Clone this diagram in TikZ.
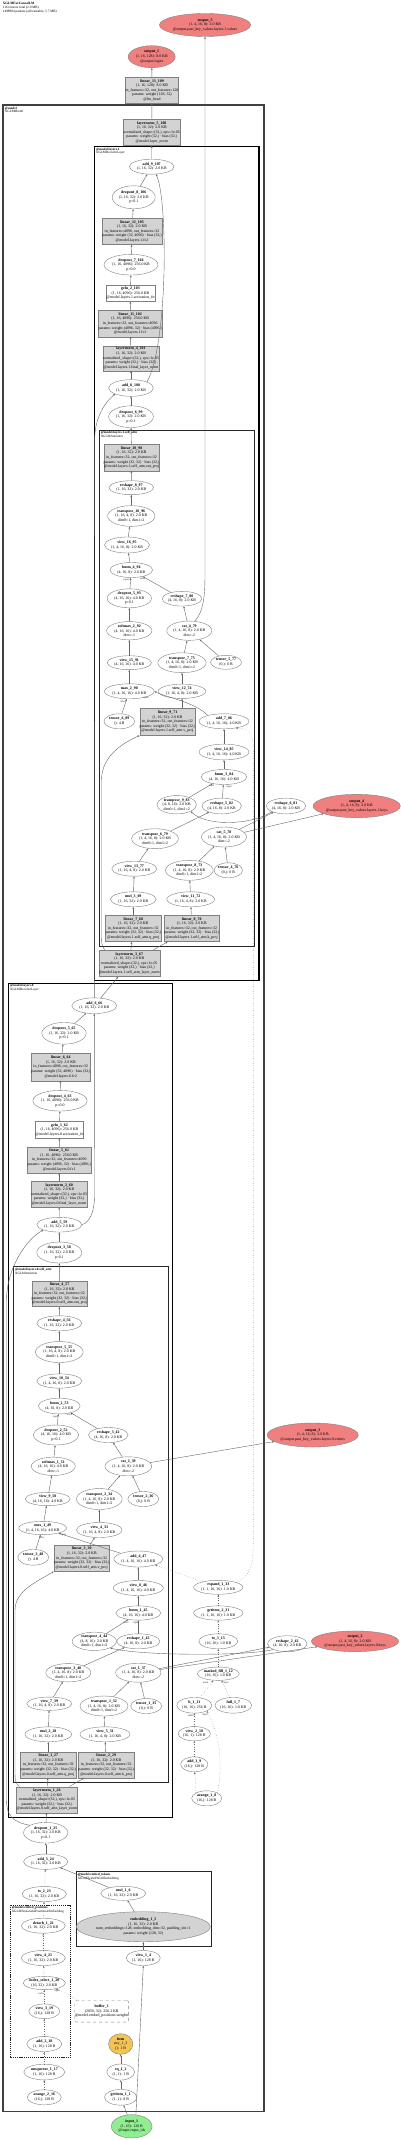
\documentclass[tikz,border=0pt]{standalone}
\usepackage{fontspec}
\setmainfont{Liberation Serif}
\usetikzlibrary{shapes.geometric,arrows.meta}
\definecolor{outpink}{RGB}{240,128,128}
\definecolor{ingreen}{RGB}{144,238,144}
\definecolor{gfill}{RGB}{211,211,211}
\definecolor{orng}{RGB}{242,196,86}
\newcommand\nmb[1]{\textbf{#1}}
\tikzset{
 base/.style={font=\fontsize{3.9}{4.6}\selectfont, align=center, inner sep=0pt, line width=0.4pt, draw=black!50, text=black},
 ell/.style={base, ellipse, fill=white},
 gbox/.style={base, rectangle, fill=gfill},
 wbox/.style={base, rectangle, fill=white},
 edge/.style={draw=black!60, line width=0.4pt, -{Stealth[length=2.2pt,width=1.8pt]}},
 dedge/.style={edge, dotted},
 elab/.style={font=\fontsize{2.6}{3}\selectfont, inner sep=0pt, text=black!80},
 clab/.style={font=\fontsize{3.3}{3.8}\selectfont, align=left, inner sep=0pt, anchor=north west},
 cmodel/.style={draw=black!75, line width=1.6pt},
 clayer/.style={draw=black, line width=1.1pt},
 cattn/.style={draw=black!85, line width=0.8pt},
 cdash/.style={draw=black!85, line width=0.8pt, dash pattern=on 1.2pt off 0.9pt},
}
\newcommand\EL[7][]{\node[ell,#1,minimum width=#5,minimum height=#6] (#2) at (#3,#4) {#7};}
\newcommand\BX[7][]{\node[gbox,#1,minimum width=#5,minimum height=#6] (#2) at (#3,#4) {#7};}
\begin{document}
\catcode`\_=12
\newcommand\SA{(1, 16, 32): 2.0 KB}
\newcommand\SB{(1, 4, 16, 8): 2.0 KB}
\newcommand\SC{(1, 16, 4, 8): 2.0 KB}
\newcommand\SD{(4, 16, 16): 4.0 KB}
\newcommand\SE{(1, 4, 16, 16): 4.0 KB}
\newcommand\SF{(4, 16, 8): 2.0 KB}
\newcommand\TD{dim0=1, dim1=2}
\newcommand\LQ{in_features=32, out_features=32\\params: weight (32, 32) · bias (32,)}
\newcommand\LN{normalized_shape=(32,), eps=1e-05\\params: weight (32,) · bias (32,)}
\begin{tikzpicture}[x=1pt,y=-1pt]
\useasboundingbox (0,0) rectangle (400,2140);
\fill[white] (0,0) rectangle (400,2140);
% title
\node[clab, font=\fontsize{3.4}{3.8}\selectfont] (title) at (2.7,2.2) {\nmb{XGLMForCausalLM}\\116 tensors total (2.0 MB)\\1498984 params (all trainable, 5.7 MB)};
% clusters
\draw[cmodel] (2.7,105.3) rectangle (264,2111.3);
\node[clab] (lmodel) at (4.8,106.6) {\nmb{@model}\\XGLMModel};
\draw[clayer] (94.3,146.7) rectangle (259,980.7);
\node[clab] (llay1) at (96,147.6) {\nmb{@model.layers.1}\\XGLMDecoderLayer};
\draw[cattn] (99,430) rectangle (254,946.7);
\node[clab] (lattn1) at (100.6,431) {\nmb{@model.layers.1.self_attn}\\XGLMAttention};
\draw[clayer] (8.3,983.3) rectangle (172.7,1817.3);
\node[clab] (llay0) at (10,984.2) {\nmb{@model.layers.0}\\XGLMDecoderLayer};
\draw[cattn] (13.3,1266.7) rectangle (168.3,1782.7);
\node[clab] (lattn0) at (15,1267.7) {\nmb{@model.layers.0.self_attn}\\XGLMAttention};
\draw[cattn] (76,1871.7) rectangle (211.7,1946);
\node[clab] (ltok) at (77.6,1872.7) {\nmb{@model.embed_tokens}\\XGLMScaledWordEmbedding};
\draw[cdash] (10,1905) rectangle (70.7,2057.3);
\node[clab] (lpos) at (11.6,1906) {\nmb{@model.embed_positions}\\XGLMSinusoidalPositionalEmbedding};
% ---- top
\EL[fill=outpink]{o5}{205}{25}{87}{23}{\nmb{output_5}\\\SB\\@output.past_key_values.layers.1.values}
\EL[fill=outpink]{o1}{151.7}{56.7}{47}{22}{\nmb{output_1}\\(1, 16, 128): 8.0 KB\\@output.logits}
\BX{lin13}{152}{90.3}{50.6}{26}{\nmb{linear_13_109}\\(1, 16, 128): 8.0 KB\\in_features=32, out_features=128\\params: weight (128, 32)\\@lm_head}
\BX{ln5}{151.8}{132.3}{55}{26.7}{\nmb{layernorm_5_108}\\\SA\\\LN\\@model.layer_norm}
% ---- layer 1
\EL{a9}{151.7}{166.7}{44.7}{15}{\nmb{add_9_107}\\\SA}
\EL{d8}{133.7}{197.3}{43}{23}{\nmb{dropout_8_106}\\\SA\\p=0.1}
\BX{lin12}{132}{231.3}{57.4}{26.7}{\nmb{linear_12_105}\\\SA\\in_features=4096, out_features=32\\params: weight (32, 4096) · bias (32,)\\@model.layers.1.fc2}
\EL{d7}{131}{264.7}{54}{20.7}{\nmb{dropout_7_104}\\(1, 16, 4096): 256.0 KB\\p=0.0}
\node[wbox,minimum width=48.4,minimum height=16] (gelu2) at (130.5,293.3) {\nmb{gelu_2_103}\\(1, 16, 4096): 256.0 KB\\@model.layers.1.activation_fn};
\BX{lin11}{130.2}{323.5}{61}{26.4}{\nmb{linear_11_102}\\(1, 16, 4096): 256.0 KB\\in_features=32, out_features=4096\\params: weight (4096, 32) · bias (4096,)\\@model.layers.1.fc1}
\BX{ln4}{131}{358.2}{55.4}{25}{\nmb{layernorm_4_101}\\\SA\\\LN\\@model.layers.1.final_layer_norm}
\EL{a8}{131}{388}{44.7}{16.7}{\nmb{add_8_100}\\\SA}
\EL{d6}{131}{416.7}{44.7}{21.7}{\nmb{dropout_6_99}\\\SA\\p=0.1}
\BX{lin10}{131.5}{457.5}{54.4}{26.4}{\nmb{linear_10_98}\\\SA\\\LQ\\@model.layers.1.self_attn.out_proj}
\EL{rs8}{131.3}{487.7}{44.7}{14}{\nmb{reshape_8_97}\\\SA}
\EL{tr10}{131.3}{516}{47.3}{20.7}{\nmb{transpose_10_96}\\\SC\\\TD}
\EL{v16}{127}{545}{39.3}{16}{\nmb{view_16_95}\\\SB}
\EL{bmm4}{131.3}{570}{42.7}{15}{\nmb{bmm_4_94}\\\SF}
\EL{d5}{129.3}{598.3}{44.3}{19}{\nmb{dropout_5_93}\\\SD\\p=0.1}
\EL{rs7}{182}{598.7}{32.7}{14.7}{\nmb{reshape_7_80}\\\SF}
\EL{sm2}{129.3}{630.7}{45.3}{18.3}{\nmb{softmax_2_92}\\\SD\\dim=-1}
\EL{cat4}{189.3}{630.7}{39}{19.3}{\nmb{cat_4_79}\\\SB\\dim=-2}
\EL{v15}{129.3}{662.7}{44.3}{14}{\nmb{view_15_91}\\\SD}
\EL{tr7}{182}{662.7}{48.3}{20}{\nmb{transpose_7_75}\\\SB\\\TD}
\EL{t5}{226}{662.3}{31}{14}{\nmb{tensor_5_77}\\(0,): 0 B}
\EL{max2}{129.3}{691.3}{49.7}{15}{\nmb{max_2_90}\\\SE}
\EL{v12}{182}{691.3}{47.7}{14.3}{\nmb{view_12_74}\\\SC}
\BX{lin9}{167.5}{721.8}{55}{27}{\nmb{linear_9_71}\\\SA\\\LQ\\@model.layers.1.self_attn.v_proj}
\EL{t6}{119.3}{721.3}{30.7}{15}{\nmb{tensor_6_89}\\(): 4 B}
\EL{a7}{224}{721.3}{50}{15}{\nmb{add_7_86}\\\SE}
\EL{v14}{224}{752}{50}{15.7}{\nmb{view_14_85}\\\SE}
\EL{bmm3}{224}{777}{45.7}{15}{\nmb{bmm_3_84}\\\SD}
\EL{tr9}{176.7}{804.7}{36.7}{18.3}{\nmb{transpose_9_83}\\(4, 8, 16): 2.0 KB\\\TD}
\EL{rs5}{221.7}{806}{35.3}{15.7}{\nmb{reshape_5_82}\\\SF}
\EL{rs6}{286}{806}{35.7}{15.7}{\nmb{reshape_6_81}\\\SF}
\EL[fill=outpink]{o4}{356.7}{806}{83.3}{23.3}{\nmb{output_4}\\\SB\\@output.past_key_values.layers.1.keys}
\EL{tr6}{155}{838.7}{46.7}{20}{\nmb{transpose_6_79}\\\SB\\\TD}
\EL{cat5}{224}{837}{45}{20}{\nmb{cat_5_78}\\\SB\\dim=-2}
\EL{v13}{134.3}{868.7}{44.3}{15}{\nmb{view_13_77}\\\SC}
\EL{tr8}{189.3}{870.3}{47.7}{20}{\nmb{transpose_8_73}\\\SB\\\TD}
\EL{t4}{228.3}{870.3}{23.3}{15}{\nmb{tensor_4_76}\\(0,): 0 B}
\EL{mul3}{133.3}{899.3}{45.7}{15}{\nmb{mul_3_69}\\\SA}
\EL{v11}{190.7}{899.3}{47.7}{15}{\nmb{view_11_72}\\\SC}
\BX{lin7}{133.3}{928.3}{53.3}{26.7}{\nmb{linear_7_68}\\\SA\\\LQ\\@model.layers.1.self_attn.q_proj}
\BX{lin8}{191.7}{928.3}{53.3}{26.7}{\nmb{linear_8_70}\\\SA\\\LQ\\@model.layers.1.self_attn.k_proj}
\BX{ln3}{129.3}{963.3}{58.7}{26.7}{\nmb{layernorm_3_67}\\\SA\\\LN\\@model.layers.1.self_attn_layer_norm}
% ---- layer 0
\EL{a6}{94.3}{1005.7}{45}{15.7}{\nmb{add_6_66}\\\SA}
\EL{dA}{64}{1033.3}{44.3}{21.7}{\nmb{dropout_5_65}\\\SA\\p=0.1}
\BX{lin6}{60.8}{1067}{57}{27.4}{\nmb{linear_6_64}\\\SA\\in_features=4096, out_features=32\\params: weight (32, 4096) · bias (32,)\\@model.layers.0.fc2}
\EL{d4}{60}{1100.7}{54.3}{20.7}{\nmb{dropout_4_63}\\(1, 16, 4096): 256.0 KB\\p=0.0}
\node[wbox,minimum width=47.6,minimum height=16.7] (gelu1) at (59.5,1129.7) {\nmb{gelu_1_62}\\(1, 16, 4096): 256.0 KB\\@model.layers.0.activation_fn};
\BX{lin5}{59.2}{1160}{61.7}{26}{\nmb{linear_5_61}\\(1, 16, 4096): 256.0 KB\\in_features=32, out_features=4096\\params: weight (4096, 32) · bias (4096,)\\@model.layers.0.fc1}
\BX{ln2}{59.2}{1194.3}{55}{26}{\nmb{layernorm_2_60}\\\SA\\\LN\\@model.layers.0.final_layer_norm}
\EL{a5}{59.3}{1224.7}{45}{14.7}{\nmb{add_5_59}\\\SA}
\EL{d3}{59.3}{1252.5}{45}{21}{\nmb{dropout_3_58}\\\SA\\p=0.1}
\BX{lin4}{59.5}{1293.8}{54.4}{25.7}{\nmb{linear_4_57}\\\SA\\\LQ\\@model.layers.0.self_attn.out_proj}
\EL{rs4}{59.3}{1323.3}{45}{15}{\nmb{reshape_4_56}\\\SA}
\EL{tr5}{59.3}{1352}{47.7}{21}{\nmb{transpose_5_55}\\\SC\\\TD}
\EL{v10}{59.3}{1381}{44.3}{14.3}{\nmb{view_10_54}\\\SB}
\EL{bmm2}{59.3}{1406}{41.7}{15.7}{\nmb{bmm_2_53}\\\SF}
\EL{d2}{56}{1435}{45}{20}{\nmb{dropout_2_52}\\\SD\\p=0.1}
\EL{rs3}{108.3}{1435}{32.3}{15}{\nmb{reshape_3_42}\\\SF}
\EL[fill=outpink]{o3}{312.7}{1435}{86.7}{24}{\nmb{output_3}\\\SB\\@output.past_key_values.layers.0.values}
\EL{sm1}{53.3}{1466.3}{44}{18.3}{\nmb{softmax_1_51}\\\SD\\dim=-1}
\EL{cat2}{128.3}{1466.3}{46.7}{19}{\nmb{cat_2_39}\\\SB\\dim=-2}
\EL{v9}{47.7}{1499}{45}{13.3}{\nmb{view_9_50}\\\SD}
\EL{tr2}{99.3}{1499}{45.7}{21}{\nmb{transpose_2_34}\\\SB\\\TD}
\EL{t2}{143.3}{1499}{31}{15}{\nmb{tensor_2_36}\\(0,): 0 B}
\EL{max1}{42.7}{1528}{41.7}{13.3}{\nmb{max_1_49}\\\SE}
\EL{v4}{99.3}{1530}{45.7}{15}{\nmb{view_4_33}\\\SC}
\EL{t3}{33.3}{1557.3}{31}{15.7}{\nmb{tensor_3_48}\\(): 4 B}
\BX{lin3}{81.7}{1558.2}{53.3}{26.3}{\nmb{linear_3_30}\\\SA\\\LQ\\@model.layers.0.self_attn.v_proj}
\EL{a4}{138.3}{1559}{48.7}{16}{\nmb{add_4_47}\\\SE}
\EL{v8}{138.3}{1588}{50}{15}{\nmb{view_8_46}\\\SE}
\EL{bmm1}{138.3}{1613}{45}{14.3}{\nmb{bmm_1_45}\\\SD}
\EL{tr4}{94.3}{1641.3}{44.3}{18.3}{\nmb{transpose_4_44}\\(4, 8, 16): 2.0 KB\\\TD}
\EL{rs1}{138.3}{1641.3}{43.3}{15}{\nmb{reshape_1_43}\\\SF}
\EL{rs2}{287.3}{1643.7}{35.7}{16}{\nmb{reshape_2_42}\\\SF}
\EL[fill=outpink]{o2}{355}{1641.3}{83.3}{20.7}{\nmb{output_2}\\\SB\\@output.past_key_values.layers.0.keys}
\EL{tr3}{68.3}{1672.7}{45}{18.3}{\nmb{transpose_3_40}\\\SB\\\TD}
\EL{cat1}{138.3}{1672.7}{45.3}{19}{\nmb{cat_1_37}\\\SB\\dim=-2}
\EL{v7}{49.3}{1703.7}{45}{13.3}{\nmb{view_7_39}\\\SC}
\EL{tr1}{104}{1706}{48}{20}{\nmb{transpose_1_32}\\\SB\\\TD}
\EL{t1}{146.2}{1706}{31}{15}{\nmb{tensor_1_35}\\(0,): 0 B}
\EL{mul2}{48.3}{1734.3}{46.7}{15}{\nmb{mul_2_28}\\\SA}
\EL{v5}{105}{1734.3}{50}{15}{\nmb{view_5_31}\\\SC}
\BX{lin1}{48.3}{1765}{56.7}{26}{\nmb{linear_1_27}\\\SA\\\LQ\\@model.layers.0.self_attn.q_proj}
\BX{lin2}{106.2}{1765}{54.3}{26}{\nmb{linear_2_29}\\\SA\\\LQ\\@model.layers.0.self_attn.k_proj}
\BX{ln1}{47}{1799.7}{59.4}{26}{\nmb{layernorm_1_26}\\\SA\\\LN\\@model.layers.0.self_attn_layer_norm}
% ---- mask chain
\EL{ex1}{218.3}{1587.3}{49.3}{14}{\nmb{expand_1_33}\\(1, 1, 16, 16): 1.0 KB}
\EL{gi2}{218.3}{1613}{49.3}{14.3}{\nmb{getitem_2_31}\\(1, 1, 16, 16): 1.0 KB}
\EL{to1}{218.3}{1641.3}{39}{15}{\nmb{to_1_13}\\(16, 16): 1.0 KB}
\EL{mf1}{218.3}{1673.7}{42}{13.3}{\nmb{masked_fill_1_12}\\(16, 16): 1.0 KB}
\EL{lt1}{194.3}{1705.3}{35}{15.7}{\nmb{lt_1_11}\\(16, 16): 256 B}
\EL{full1}{233.3}{1705.3}{28}{15.7}{\nmb{full_1_7}\\(16, 16): 1.0 KB}
\EL{v2}{194.3}{1733.7}{32.3}{14.3}{\nmb{view_2_10}\\(16, 1): 128 B}
\EL{a1}{194.3}{1764.3}{26.7}{15}{\nmb{add_1_9}\\(16,): 128 B}
\EL{ar1}{206.7}{1798.3}{30}{15}{\nmb{arange_1_8}\\(16,): 128 B}
% ---- embeddings
\EL{d1}{45.7}{1832.7}{44.3}{20.7}{\nmb{dropout_1_25}\\\SA\\p=0.1}
\EL{a3}{45.7}{1861.7}{44.3}{15.3}{\nmb{add_3_24}\\\SA}
\EL{to2}{44.3}{1894}{44.3}{15}{\nmb{to_2_23}\\\SA}
\EL{mul1}{123.3}{1893.3}{45}{14}{\nmb{mul_1_6}\\\SA}
\EL[fill=gfill]{emb}{143.3}{1926.7}{125.3}{30}{\nmb{embedding_1_5}\\\SA\\num_embeddings=128, embedding_dim=32, padding_idx=1\\params: weight (128, 32)}
\EL{det}{43.3}{1925.7}{44}{15}{\nmb{detach_1_22}\\\SA}
\EL{v1}{43.3}{1958}{44}{15}{\nmb{view_4_21}\\\SA}
\EL{v1b}{143.3}{1958}{34}{15}{\nmb{view_1_4}\\(1, 16): 128 B}
\EL{is1}{44.3}{1983}{41.7}{13.3}{\nmb{index_select_1_20}\\(16, 32): 2.0 KB}
\node[base, rectangle, rounded corners=2pt, dashed, fill=white, minimum width=52.3, minimum height=21.7] (buf) at (101.7,2011.3) {\nmb{buffer_1}\\(2050, 32): 256.2 KB\\@model.embed_positions.weights};
\EL{v3}{44.3}{2011.3}{31}{14.7}{\nmb{view_3_19}\\(16,): 128 B}
\EL{a2}{44.3}{2044}{35}{15}{\nmb{add_2_18}\\(1, 16): 128 B}
\EL[fill=orng]{orn}{120.7}{2044}{24.3}{20.7}{\nmb{item}\\any_1_3\\(): 1 B}
\EL{unsq}{44.3}{2072}{41}{15.7}{\nmb{unsqueeze_1_17}\\(1, 16): 128 B}
\EL{eq}{120.7}{2072}{27.7}{16}{\nmb{eq_1_2}\\(1, 1): 1 B}
\EL{ar2}{44.3}{2097.3}{34}{15}{\nmb{arange_2_16}\\(16,): 128 B}
\EL{gi1}{120.7}{2097.3}{32.3}{15.7}{\nmb{getitem_1_1}\\(1, 1): 8 B}
\EL[fill=ingreen]{in1}{131.7}{2126.3}{40.7}{23.3}{\nmb{input_1}\\(1, 16): 128 B\\@input.input_ids}
% ================= edges
\draw[edge] (lin13) -- (o1);
\draw[edge] (ln5) -- (lin13);
\draw[edge] (a9) -- (ln5);
\draw[edge] (d8) -- (a9);
\draw[edge] (a8.north east) .. controls (168,345) and (168,200) .. (a9.-60);
\draw[edge] (lin12) -- (d8);
\draw[edge] (d7) -- (lin12);
\draw[edge] (gelu2) -- (d7);
\draw[edge] (lin11) -- (gelu2);
\draw[edge] (ln4) -- (lin11);
\draw[edge] (a8) -- (ln4);
\draw[edge] (d6) -- (a8);
\draw[edge] (lin10) -- (d6);
\draw[edge] (rs8) -- (lin10);
\draw[edge] (tr10) -- (rs8);
\draw[edge] (v16) -- (tr10);
\draw[edge] (bmm4) -- (v16);
\draw[edge] (d5) -- (bmm4);
\draw[edge] (rs7) -- (bmm4);
\draw[edge] (sm2) -- (d5);
\draw[edge] (v15) -- (sm2);
\draw[edge] (max2) -- (v15);
\draw[edge] (a7.160) .. controls (195,702) and (165,697) .. (max2.east);
\draw[edge] (t6) -- (max2);
\draw[edge] (cat4) -- (rs7);
\draw[edge] (tr7) -- (cat4);
\draw[edge] (t5) -- (cat4);
\draw[edge] (v12) -- (tr7);
\draw[edge] (v12.south |- lin9.north) -- (v12.south);
\draw[edge] (cat4.60) .. controls (205,610) and (205,590) .. (205,570) -- (o5.south);
\draw[edge] (v14) -- (a7);
\draw[edge] (bmm3) -- (v14);
\draw[edge] (tr9) -- (bmm3);
\draw[edge] (rs5) -- (bmm3);
\draw[edge] (rs6.south west) .. controls (250,826) and (205,826) .. (tr9.south east);
\draw[edge] (cat5) -- (rs6);
\draw[edge] (cat5) -- (o4);
\draw[edge] (tr6) -- (rs5);
\draw[edge] (v13) -- (tr6);
\draw[edge] (mul3) -- (v13);
\draw[edge] (lin7) -- (mul3);
\draw[edge] (tr8) -- (cat5);
\draw[edge] (t4) -- (cat5);
\draw[edge] (v11) -- (tr8);
\draw[edge] (lin8) -- (v11);
\draw[edge] (ln3) -- (lin7);
\draw[edge] (ln3) -- (lin8);
\draw[edge] ([xshift=6pt]ln3.north west) .. controls (101.5,945) .. (101.5,930) -- (101.5,780) .. controls (101.5,755) and (125,742) .. (lin9.south west);
\draw[edge] (a6) -- (ln3);
\draw[edge] (a6.north) -- (94.6,440) .. controls (94.6,418) and (105,402) .. (a8.south west);
\draw[edge] (dA) -- (a6);
\draw[edge] (lin6) -- (dA);
\draw[edge] (d4) -- (lin6);
\draw[edge] (gelu1) -- (d4);
\draw[edge] (lin5) -- (gelu1);
\draw[edge] (ln2) -- (lin5);
\draw[edge] (a5) -- (ln2);
\draw[edge] (a5.east) .. controls (90,1222) and (94.5,1212) .. (94.5,1195) -- (a6.south);
\draw[edge] (d3) -- (a5);
\draw[edge] (d1.north west) .. controls (12,1822) and (6.5,1815) .. (6.5,1800) -- (6.5,1300) .. controls (6.5,1270) and (25,1240) .. (a5.south west);
\draw[edge] (lin4) -- (d3);
\draw[edge] (rs4) -- (lin4);
\draw[edge] (tr5) -- (rs4);
\draw[edge] (v10) -- (tr5);
\draw[edge] (bmm2) -- (v10);
\draw[edge] (d2) -- (bmm2);
\draw[edge] (rs3) -- (bmm2);
\draw[edge] (sm1) -- (d2);
\draw[edge] (cat2) -- (rs3);
\draw[edge] (cat2) -- (o3);
\draw[edge] (v9) -- (sm1);
\draw[edge] (tr2) -- (cat2);
\draw[edge] (t2) -- (cat2);
\draw[edge] (max1) -- (v9);
\draw[edge] (v4) -- (tr2);
\draw[edge] (a4) -- (max1);
\draw[edge] (t3) -- (max1);
\draw[edge] (lin3) -- (v4);
\draw[edge] (v8) -- (a4);
\draw[edge] (bmm1) -- (v8);
\draw[edge] (rs1) -- (bmm1);
\draw[edge] (tr4) -- (bmm1);
\draw[edge] (rs2.south west) .. controls (250,1656) and (140,1656) .. (tr4.south east);
\draw[edge] (cat1) -- (rs2);
\draw[edge] (cat1) -- (o2);
\draw[edge] (tr3) -- (rs1);
\draw[edge] (v7) -- (tr3);
\draw[edge] (tr1) -- (cat1);
\draw[edge] (t1) -- (cat1);
\draw[edge] (mul2) -- (v7);
\draw[edge] (v5) -- (tr1);
\draw[edge] (lin1) -- (mul2);
\draw[edge] (lin2) -- (v5);
\draw[edge] (ln1) -- (lin1);
\draw[edge] (ln1) -- (lin2);
\draw[edge] ([xshift=3pt]ln1.north west) .. controls (15,1782) .. (15,1768) -- (15,1610) .. controls (15,1590) and (40,1580) .. (lin3.south west);
\draw[edge] (d1) -- (ln1);
\draw[edge] (a3) -- (d1);
\draw[edge] (mul1) -- (a3);
\draw[edge] (emb) -- (mul1);
\draw[edge] (v1b) -- (emb);
\draw[edge] (in1.70) -- (v1b.south);
\draw[edge] (in1) -- (gi1);
\draw[edge] (gi1) -- (eq);
\draw[edge] (eq) -- (orn);
% mask chain (dotted)
\draw[dedge] (ar1.north west) -- (a1);
\draw[dedge] (a1) -- (v2);
\draw[dedge] (v2) -- (lt1);
\draw[dedge] (ar1.north east) .. controls (222,1770) and (222,1740) .. (lt1.south east);
\draw[dedge] (lt1) -- (mf1);
\draw[dedge] (full1) -- (mf1);
\draw[dedge] (mf1) -- (to1);
\draw[dedge] (to1) -- (gi2);
\draw[dedge] (gi2) -- (ex1);
\draw[dedge] (ex1) -- (a4);
\draw[dedge] (ex1.north east) .. controls (253.3,1575) and (253.3,1560) .. (253.3,1540) -- (253.3,750) .. controls (253.3,735) and (250,728) .. (a7.-30);
% embed positions (dotted)
\draw[dedge] (to2) -- (a3);
\draw[dedge] (det) -- (to2);
\draw[dedge] (v1) -- (det);
\draw[dedge] (is1) -- (v1);
\draw[dedge] (v3) -- (is1);
\draw[dedge] (buf) -- (is1);
\draw[dedge] (a2) -- (v3);
\draw[dedge] (unsq) -- (a2);
\draw[dedge] (ar2) -- (unsq);
% edge labels
\node[elab] (lb1) at (126.2,580) {input};
\node[elab] (lb2) at (142.5,578.3) {mat2};
\node[elab] (lb3) at (211.5,786) {mat2};
\node[elab] (lb4) at (229,787) {input};
\node[elab] (lb5) at (55.5,1416.5) {input};
\node[elab] (lb6) at (69.5,1414.5) {mat2};
\node[elab] (lb7) at (126,1622.2) {mat2};
\node[elab] (lb8) at (136,1622.8) {input};
\node[elab] (lb9) at (123,701.2) {other};
\node[elab] (lb10) at (146,697.8) {input};
\node[elab] (lb11) at (41.7,1537.2) {other};
\node[elab] (lb12) at (63.3,1534.4) {input};
\node[elab] (lb13) at (205.5,1683) {mask};
\node[elab] (lb14) at (226,1683) {input};
\node[elab] (lb15) at (190.5,1715.8) {other};
\node[elab] (lb16) at (205,1715) {input};
\node[elab] (lb17) at (41.5,1993.2) {index};
\node[elab] (lb18) at (57,1990.8) {input};
\end{tikzpicture}
\end{document}
